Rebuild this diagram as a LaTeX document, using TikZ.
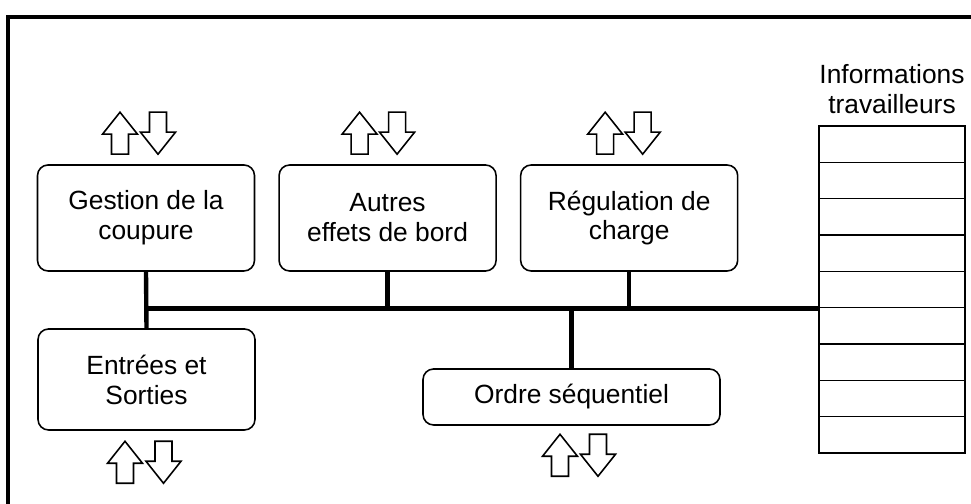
\documentclass[tikz,border=0pt]{standalone}
\usepackage{fontspec}
\setmainfont{Liberation Sans}
\usetikzlibrary{positioning}
\tikzset{
  module/.style={draw,rounded corners=6pt,line width=0.9pt,align=center,
    minimum width=4.34cm,minimum height=2.12cm,font=\fontsize{15}{17}\selectfont},
  bus/.style={line width=2.5pt},
  cell/.style={draw,line width=0.8pt,minimum width=2.92cm,minimum height=0.727cm,inner sep=0pt},
  block/.style={draw,line width=0.9pt,line join=miter,fill=white},
  uparr/.pic={\draw[block] (-0.17,-0.42) -- (-0.17,-0.02) -- (-0.35,-0.02) -- (0,0.42)
      -- (0.35,-0.02) -- (0.17,-0.02) -- (0.17,-0.42) -- cycle;},
  downarr/.pic={\draw[block] (-0.17,0.42) -- (-0.17,0.02) -- (-0.35,0.02) -- (0,-0.42)
      -- (0.35,0.02) -- (0.17,0.02) -- (0.17,0.42) -- cycle;}
}
\begin{document}
\begin{tikzpicture}
  \useasboundingbox (0,0) rectangle (19.42,10.08);
  % cadre
  \draw[line width=2.3pt] (19.42,9.74) -- (0.16,9.74) -- (0.16,0);

  \node[module] (gestion) at (2.92,5.72) {Gestion de la\\coupure};
  \node[module] (autres) [right=0.46cm of gestion] {Autres\\effets de bord};
  \node[module] (regulation) [right=0.46cm of autres] {Régulation de\\charge};
  \node[module,minimum height=2.02cm] (entrees) at (2.93,2.49) {Entrées et\\Sorties};
  \node[module,minimum width=5.94cm,minimum height=1.12cm] (ordre) at (11.43,2.14) {Ordre séquentiel};

  % tableau des travailleurs
  \foreach \i in {1,...,9}
    \node[cell] (r\i) at (17.84,{7.56-0.727*(\i-0.5)}) {};
  \node[font=\fontsize{15}{17}\selectfont,align=center,above=0.1cm of r1] (info) {Informations\\travailleurs};

  % bus
  \draw[bus] (gestion.south |- r5.south west) -- (r5.south west);
  \draw[bus] (gestion.south) -- (entrees.north);
  \draw[bus] (autres.south) -- (autres.south |- r5.south west);
  \draw[bus] (regulation.south) -- (regulation.south |- r5.south west);
  \draw[bus] (ordre.north) -- (ordre.north |- r5.south west);

  % fleches
  \path (gestion.north) +(-0.52,0.62) pic {uparr} +(0.24,0.62) pic {downarr};
  \path (autres.north) +(-0.56,0.62) pic {uparr} +(0.19,0.62) pic {downarr};
  \path (regulation.north) +(-0.48,0.62) pic {uparr} +(0.27,0.62) pic {downarr};
  \path (entrees.south) +(-0.43,-0.63) pic {uparr} +(0.34,-0.63) pic {downarr};
  \path (ordre.south) +(-0.23,-0.59) pic {uparr} +(0.53,-0.59) pic {downarr};
\end{tikzpicture}
\end{document}
